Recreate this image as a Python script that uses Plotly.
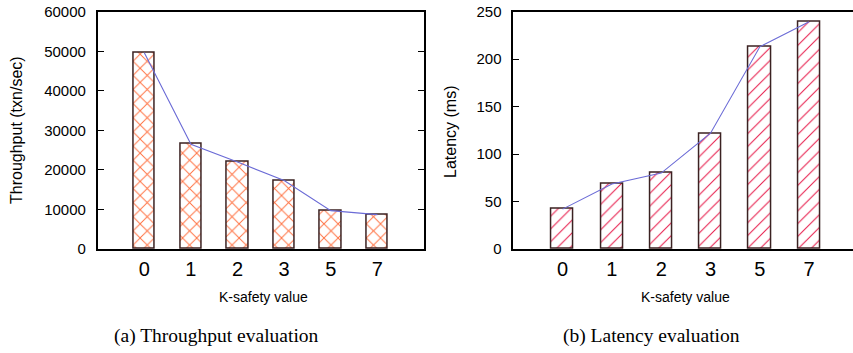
import plotly.graph_objects as go

categories = ["0", "1", "2", "3", "5", "7"]
throughput = [49600, 26500, 22000, 17300, 9700, 8700]
latency = [42, 68.5, 80, 122, 213, 239.5]
thr_ticks = [0, 10000, 20000, 30000, 40000, 50000, 60000]
lat_ticks = [0, 50, 100, 150, 200, 250]

W, H = 853, 353
def px(x):
    return x / W
def py(y):
    return 1 - y / H

fig = go.Figure()

fig.add_trace(go.Bar(
    x=categories, y=throughput, xaxis="x", yaxis="y", width=0.46,
    marker=dict(color="white", line=dict(color="#3b2222", width=1.5),
                pattern=dict(shape="x", fgcolor="#ff7040", bgcolor="white",
                             size=10, solidity=0.18, fillmode="replace")),
    showlegend=False))
fig.add_trace(go.Scatter(
    x=categories, y=throughput, xaxis="x", yaxis="y", mode="lines",
    line=dict(color="#6b6bd6", width=1.1), showlegend=False))

fig.add_trace(go.Bar(
    x=categories, y=latency, xaxis="x2", yaxis="y2", width=0.45,
    marker=dict(color="white", line=dict(color="#3b2222", width=1.5),
                pattern=dict(shape="/", fgcolor="#e8204f", bgcolor="white",
                             size=9, solidity=0.12, fillmode="replace")),
    showlegend=False))
fig.add_trace(go.Scatter(
    x=categories, y=latency, xaxis="x2", yaxis="y2", mode="lines",
    line=dict(color="#6b6bd6", width=1.1), showlegend=False))

ydom = [py(249), py(11.7)]
tickfont_y = dict(family="Liberation Sans, Arial, sans-serif", size=15, color="black")
tickfont_x = dict(family="Liberation Sans, Arial, sans-serif", size=20, color="black")

common_x = dict(type="category", showline=True, linecolor="black", linewidth=1.6,
                mirror=True, ticks="", showgrid=False, zeroline=False,
                tickfont=tickfont_x, ticklabelstandoff=1, automargin=False,
                ticklabeloverflow="allow")
common_y = dict(showline=True, linecolor="black", linewidth=1.6, ticks="inside",
                ticklen=6, tickwidth=1, tickcolor="black", showgrid=False,
                zeroline=False, tickfont=tickfont_y, ticklabelstandoff=7,
                automargin=False, ticklabeloverflow="allow")

fig.update_layout(
    width=W, height=H, margin=dict(l=0, r=0, t=0, b=0, autoexpand=False),
    paper_bgcolor="white", plot_bgcolor="white", bargap=0,
    xaxis=dict(domain=[px(97.7), px(424)], range=[-1, 6], anchor="y", **common_x),
    yaxis=dict(domain=ydom, range=[0, 60000], tickvals=thr_ticks,
               ticktext=[str(v) for v in thr_ticks], anchor="x",
               mirror="ticks", **common_y),
    xaxis2=dict(domain=[px(513.3), 1.0], range=[-1, 5.89], anchor="y2", **common_x),
    yaxis2=dict(domain=ydom, range=[0, 250], tickvals=lat_ticks,
                ticktext=[str(v) for v in lat_ticks], anchor="x2",
                mirror=False, **common_y),
)

ann_font = dict(family="Liberation Sans, Arial, sans-serif", size=14, color="black")
title_font = dict(family="Liberation Sans, Arial, sans-serif", size=16, color="black")
cap_font = dict(family="Liberation Serif, Times New Roman, serif", size=19.5, color="black")

def ann(text, x, y, font, angle=0):
    fig.add_annotation(text=text, x=px(x), y=py(y), xref="paper", yref="paper",
                       showarrow=False, font=font, textangle=angle,
                       xanchor="center", yanchor="middle")

ann("Throughput (txn/sec)", 16, 130, title_font, -90)
ann("Latency (ms)", 451, 132, title_font, -90)
ann("K-safety value", 263.5, 297, ann_font)
ann("K-safety value", 685.5, 297, ann_font)
ann("(a) Throughput evaluation", 216.5, 336, cap_font)
ann("(b) Latency evaluation", 651, 336, cap_font)

fig.write_html("out.html", config={"displayModeBar": False},
               post_script="document.body.style.margin='0';document.body.style.overflow='hidden';")
